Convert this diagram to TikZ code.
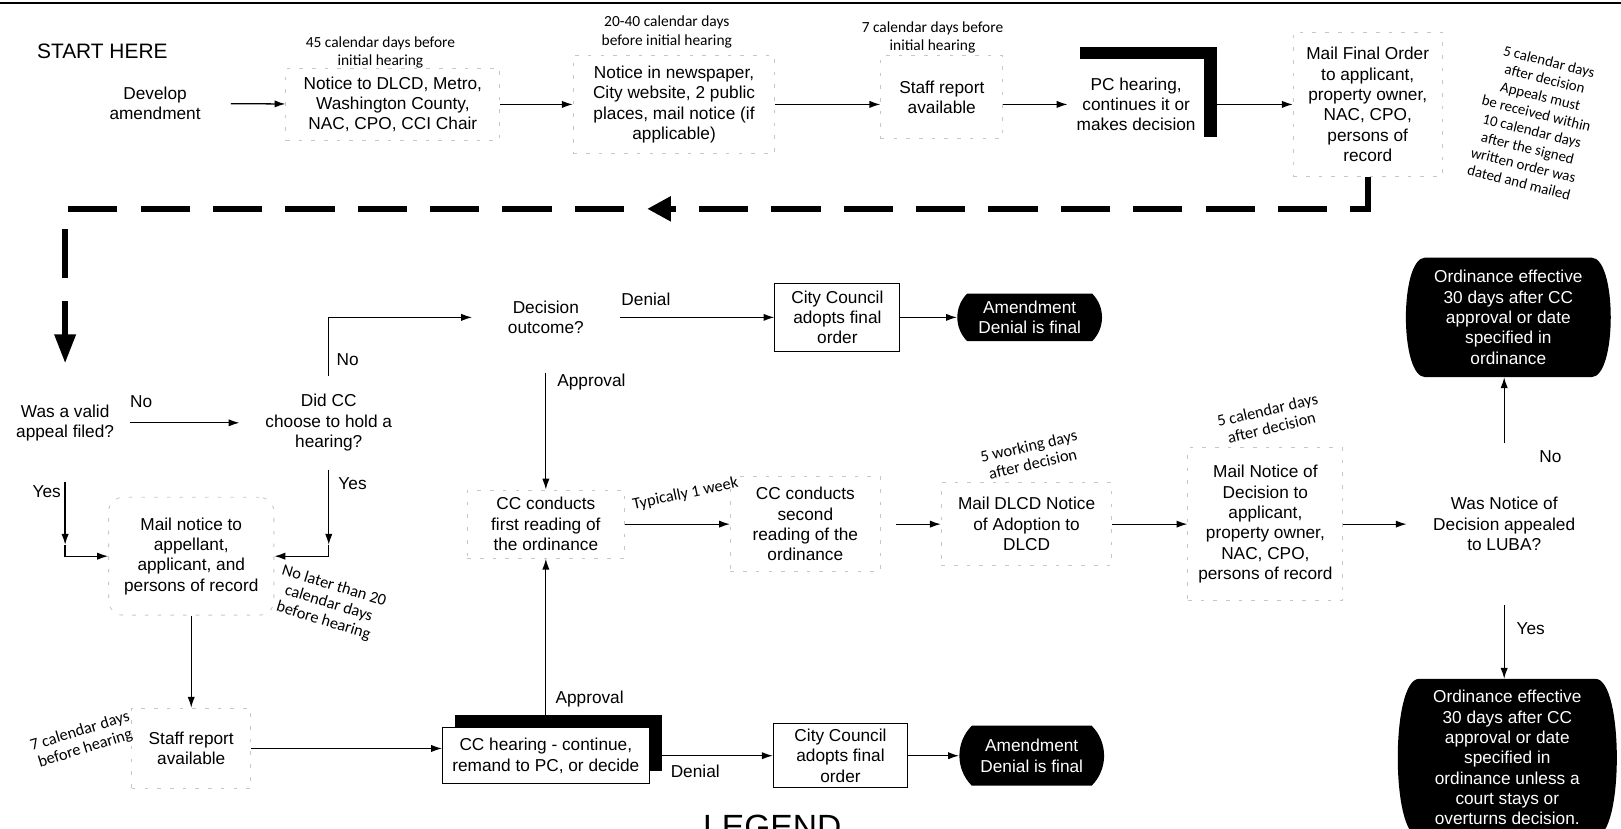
\documentclass[tikz,border=0pt]{standalone}
\usepackage{fontspec}
\setmainfont{Liberation Sans}
\newfontfamily\notefont{Carlito}
\usetikzlibrary{arrows.meta,shapes.misc,shadows,backgrounds}

\begin{document}
\begin{tikzpicture}[x=.02cm,y=-.02cm,font=\fontsize{9.5}{11.2}\selectfont,
    every node/.style={align=center,inner sep=0pt},
    arr/.style={line width=.7pt,-{Latex[length=6pt,width=4pt]}},
    ghostbox/.style={draw=black!22,dash pattern=on 2pt off 5pt,line width=.5pt},
    thinbox/.style={draw,line width=.5pt},
    shadowbox/.style={fill=white,drop shadow={shadow xshift=.24cm,shadow yshift=.24cm,fill=black,opacity=1}},
    endbox/.style={rounded rectangle,rounded rectangle arc length=90,fill=black,text=white},
    note/.style={font=\notefont\fontsize{8.5}{10}\selectfont},
    tilt/.style={font=\notefont\fontsize{9}{10}\selectfont},
    retline/.style={line width=3.4pt,dash pattern=on .95cm off .45cm}]
  \useasboundingbox (0,0) rectangle (1568,801);
  \draw[line width=1.1pt] (0,3) -- (1568,3);

  \node (start) at (99,50) {\fontsize{11.5}{13}\selectfont START HERE};
  \node[minimum width=2.92cm,minimum height=1.4cm] (dev) at (150,100) {Develop\\amendment};
  \node[note] (n45) at (368,51) {45 calendar days before\\initial hearing};
  \node[ghostbox,minimum width=4.14cm,minimum height=1.4cm] (dlcd) at (380,101) {Notice to DLCD, Metro,\\Washington County,\\NAC, CPO, CCI Chair};
  \node[note] (n2040) at (645,31) {20-40 calendar days\\before initial hearing};
  \node[ghostbox,minimum width=3.9cm,minimum height=1.9cm] (news) at (652,101) {Notice in newspaper,\\City website, 2 public\\places, mail notice (if\\applicable)};
  \node[note] (n7) at (902,36) {7 calendar days before\\initial hearing};
  \node[ghostbox,minimum width=2.36cm,minimum height=1.6cm] (staff1) at (911,94) {Staff report\\available};
  \node[shadowbox,minimum width=2.64cm,minimum height=1.76cm] (pc) at (1099,101) {PC hearing,\\continues it or\\makes decision};
  \node[ghostbox,minimum width=2.88cm,minimum height=2.8cm] (mfo) at (1323,101) {Mail Final Order\\to applicant,\\property owner,\\NAC, CPO,\\persons of\\record};
  \node[note,rotate=-14,font=\notefont\fontsize{8.2}{9.8}\selectfont] (n5) at (1484,118) {5 calendar days\\after decision\\Appeals must\\be received within\\10 calendar days\\after the signed\\written order was\\dated and mailed};

  \draw[arr] (dev) -- (dlcd);
  \draw[arr] (dlcd) -- (news);
  \draw[arr] (news.east) -- (news.east -| staff1.west);
  \draw[arr] (staff1.east |- pc.west) -- (pc.west);
  \draw[arr] (pc) -- (mfo);

  \node[minimum width=2.48cm,minimum height=2.28cm] (appeal) at (63,409) {Was a valid\\appeal filed?};
  \node[minimum width=3.44cm,minimum height=1.8cm] (cchold) at (318,409) {Did CC\\choose to hold a\\hearing?};
  \node[minimum width=2.84cm,minimum height=2.12cm] (outcome) at (528,307) {Decision\\outcome?};
  \node[thinbox,minimum width=2.42cm,minimum height=1.3cm] (cco1) at (810,307) {City Council\\adopts final\\order};
  \node[endbox,minimum width=2.8cm,minimum height=.92cm] (deny1) at (996,307) {Amendment\\Denial is final};
  \node[ghostbox,minimum width=3.04cm,minimum height=1.32cm] (first) at (528,507) {CC conducts\\first reading of\\the ordinance};
  \node[ghostbox,minimum width=2.9cm,minimum height=1.84cm] (second) at (779,507) {CC conducts\\second\\reading of the\\ordinance};
  \node[ghostbox,minimum width=3.3cm,minimum height=1.6cm] (dlcdn) at (993,507) {Mail DLCD Notice\\of Adoption to\\DLCD};
  \node[ghostbox,minimum width=3cm,minimum height=2.96cm] (mailnd) at (1224,507) {Mail Notice of\\Decision to\\applicant,\\property owner,\\NAC, CPO,\\persons of record};
  \node[minimum width=3.76cm,minimum height=3.12cm] (luba) at (1455,507) {Was Notice of\\Decision appealed\\to LUBA?};
  \node[text=white,minimum width=3.2cm,minimum height=2.3cm] (eff1) at (1459,307) {Ordinance effective\\30 days after CC\\approval or date\\specified in\\ordinance};
  \node[text=white,minimum width=3.4cm,minimum height=3.04cm] (eff2) at (1458,733) {Ordinance effective\\30 days after CC\\approval or date\\specified in\\ordinance unless a\\court stays or\\overturns decision.};
  \begin{scope}[on background layer]
    \fill (eff1.north west) -- (eff1.north east) .. controls ([xshift=.5cm]eff1.north east) and ([xshift=.5cm]eff1.south east) .. (eff1.south east)
      -- (eff1.south west) .. controls ([xshift=-.5cm]eff1.south west) and ([xshift=-.5cm]eff1.north west) .. cycle;
    \fill (eff2.north west) -- (eff2.north east) .. controls ([xshift=.55cm]eff2.north east) and ([xshift=.55cm]eff2.south east) .. (eff2.south east)
      -- (eff2.south west) .. controls ([xshift=-.55cm]eff2.south west) and ([xshift=-.55cm]eff2.north west) .. cycle;
  \end{scope}

  \node[tilt,rotate=12] (nwk) at (663,478) {Typically 1 week};
  \node[tilt,rotate=13] (n5w) at (997,440) {5 working days\\after decision};
  \node[tilt,rotate=13] (n5c) at (1228,405) {5 calendar days\\after decision};
  \node[tilt,rotate=-17] (n20) at (318,584) {No later than 20\\calendar days\\before hearing};
  \node[tilt,rotate=17] (n7b) at (80,716) {7 calendar days\\before hearing};

  \node[ghostbox,rounded corners=8pt,minimum width=3.2cm,minimum height=2.28cm] (mailn) at (185,538) {Mail notice to\\appellant,\\applicant, and\\persons of record};
  \node[ghostbox,minimum width=2.3cm,minimum height=1.56cm] (staff2) at (185,724) {Staff report\\available};
  \node[shadowbox,draw,line width=.5pt,minimum width=4cm,minimum height=1.08cm] (cch) at (528,731) {CC hearing - continue,\\remand to PC, or decide};
  \node[thinbox,minimum width=2.6cm,minimum height=1.24cm] (cco2) at (813,731) {City Council\\adopts final\\order};
  \node[endbox,minimum width=2.8cm,minimum height=1.16cm] (deny2) at (998,731) {Amendment\\Denial is final};
  \node[anchor=north,font=\fontsize{18.5}{20}\selectfont] (legend) at (747,788) {LEGEND};

  \coordinate (rmid) at (626,202);
  \draw[retline,-{Triangle[length=13pt,width=13pt]}] (mfo.south) |- (rmid);
  \draw[retline,dash phase=.95cm,-{Triangle[length=16pt,width=11pt]}] (rmid) -| (appeal.north);

  \draw[arr] (appeal) -- node[pos=0,anchor=south west,yshift=8pt] (lno1) {No} (cchold);
  \draw[arr] (cchold.north) |- node[pos=.14,anchor=west,xshift=4pt] (lno2) {No} (outcome.west);
  \draw[arr] (outcome) -- node[pos=.17,anchor=south,yshift=6pt] (lden1) {Denial} (cco1);
  \draw[arr] (cco1) -- (deny1);
  \draw[arr] (outcome) -- node[pos=.08,anchor=west,xshift=6pt] (lapp1) {Approval} (first);
  \coordinate (yc) at (318,527);
  \draw[arr] (cchold) -- node[pos=.18,anchor=west,xshift=5pt] (lyes1) {Yes} (yc);
  \draw[arr] (yc) |- (mailn.east);
  \coordinate (ya) at (63,527);
  \draw[arr] (appeal) -- node[pos=.15,anchor=east,xshift=-2pt] (lyes2) {Yes} (ya);
  \draw[arr] (ya) |- (mailn.west);
  \draw[arr] (first) -- (second);
  \draw[arr,shorten <=.3cm] (second) -- (dlcdn);
  \draw[arr] (dlcdn) -- (mailnd);
  \draw[arr] (mailnd) -- (luba);
  \draw[arr] (luba.north) -- node[pos=0,anchor=north west,xshift=19pt,yshift=-4pt] (lno3) {No} (luba.north |- eff1.south);
  \draw[arr] (luba.south) -- node[pos=.32,anchor=west,xshift=6.5pt] (lyes3) {Yes} (luba.south |- eff2.north);
  \draw[arr] (mailn) -- (staff2);
  \draw[arr] (staff2.east) -- (staff2.east -| cch.west);
  \draw[arr] (cch) -- node[pos=.37,anchor=north,yshift=-4.5pt] (lden2) {Denial} (cco2);
  \draw[arr] (cco2) -- (deny2);
  \draw[arr] (cch) -- node[pos=.17,anchor=west,xshift=5pt] (lapp2) {Approval} (first);
\end{tikzpicture}
\end{document}
